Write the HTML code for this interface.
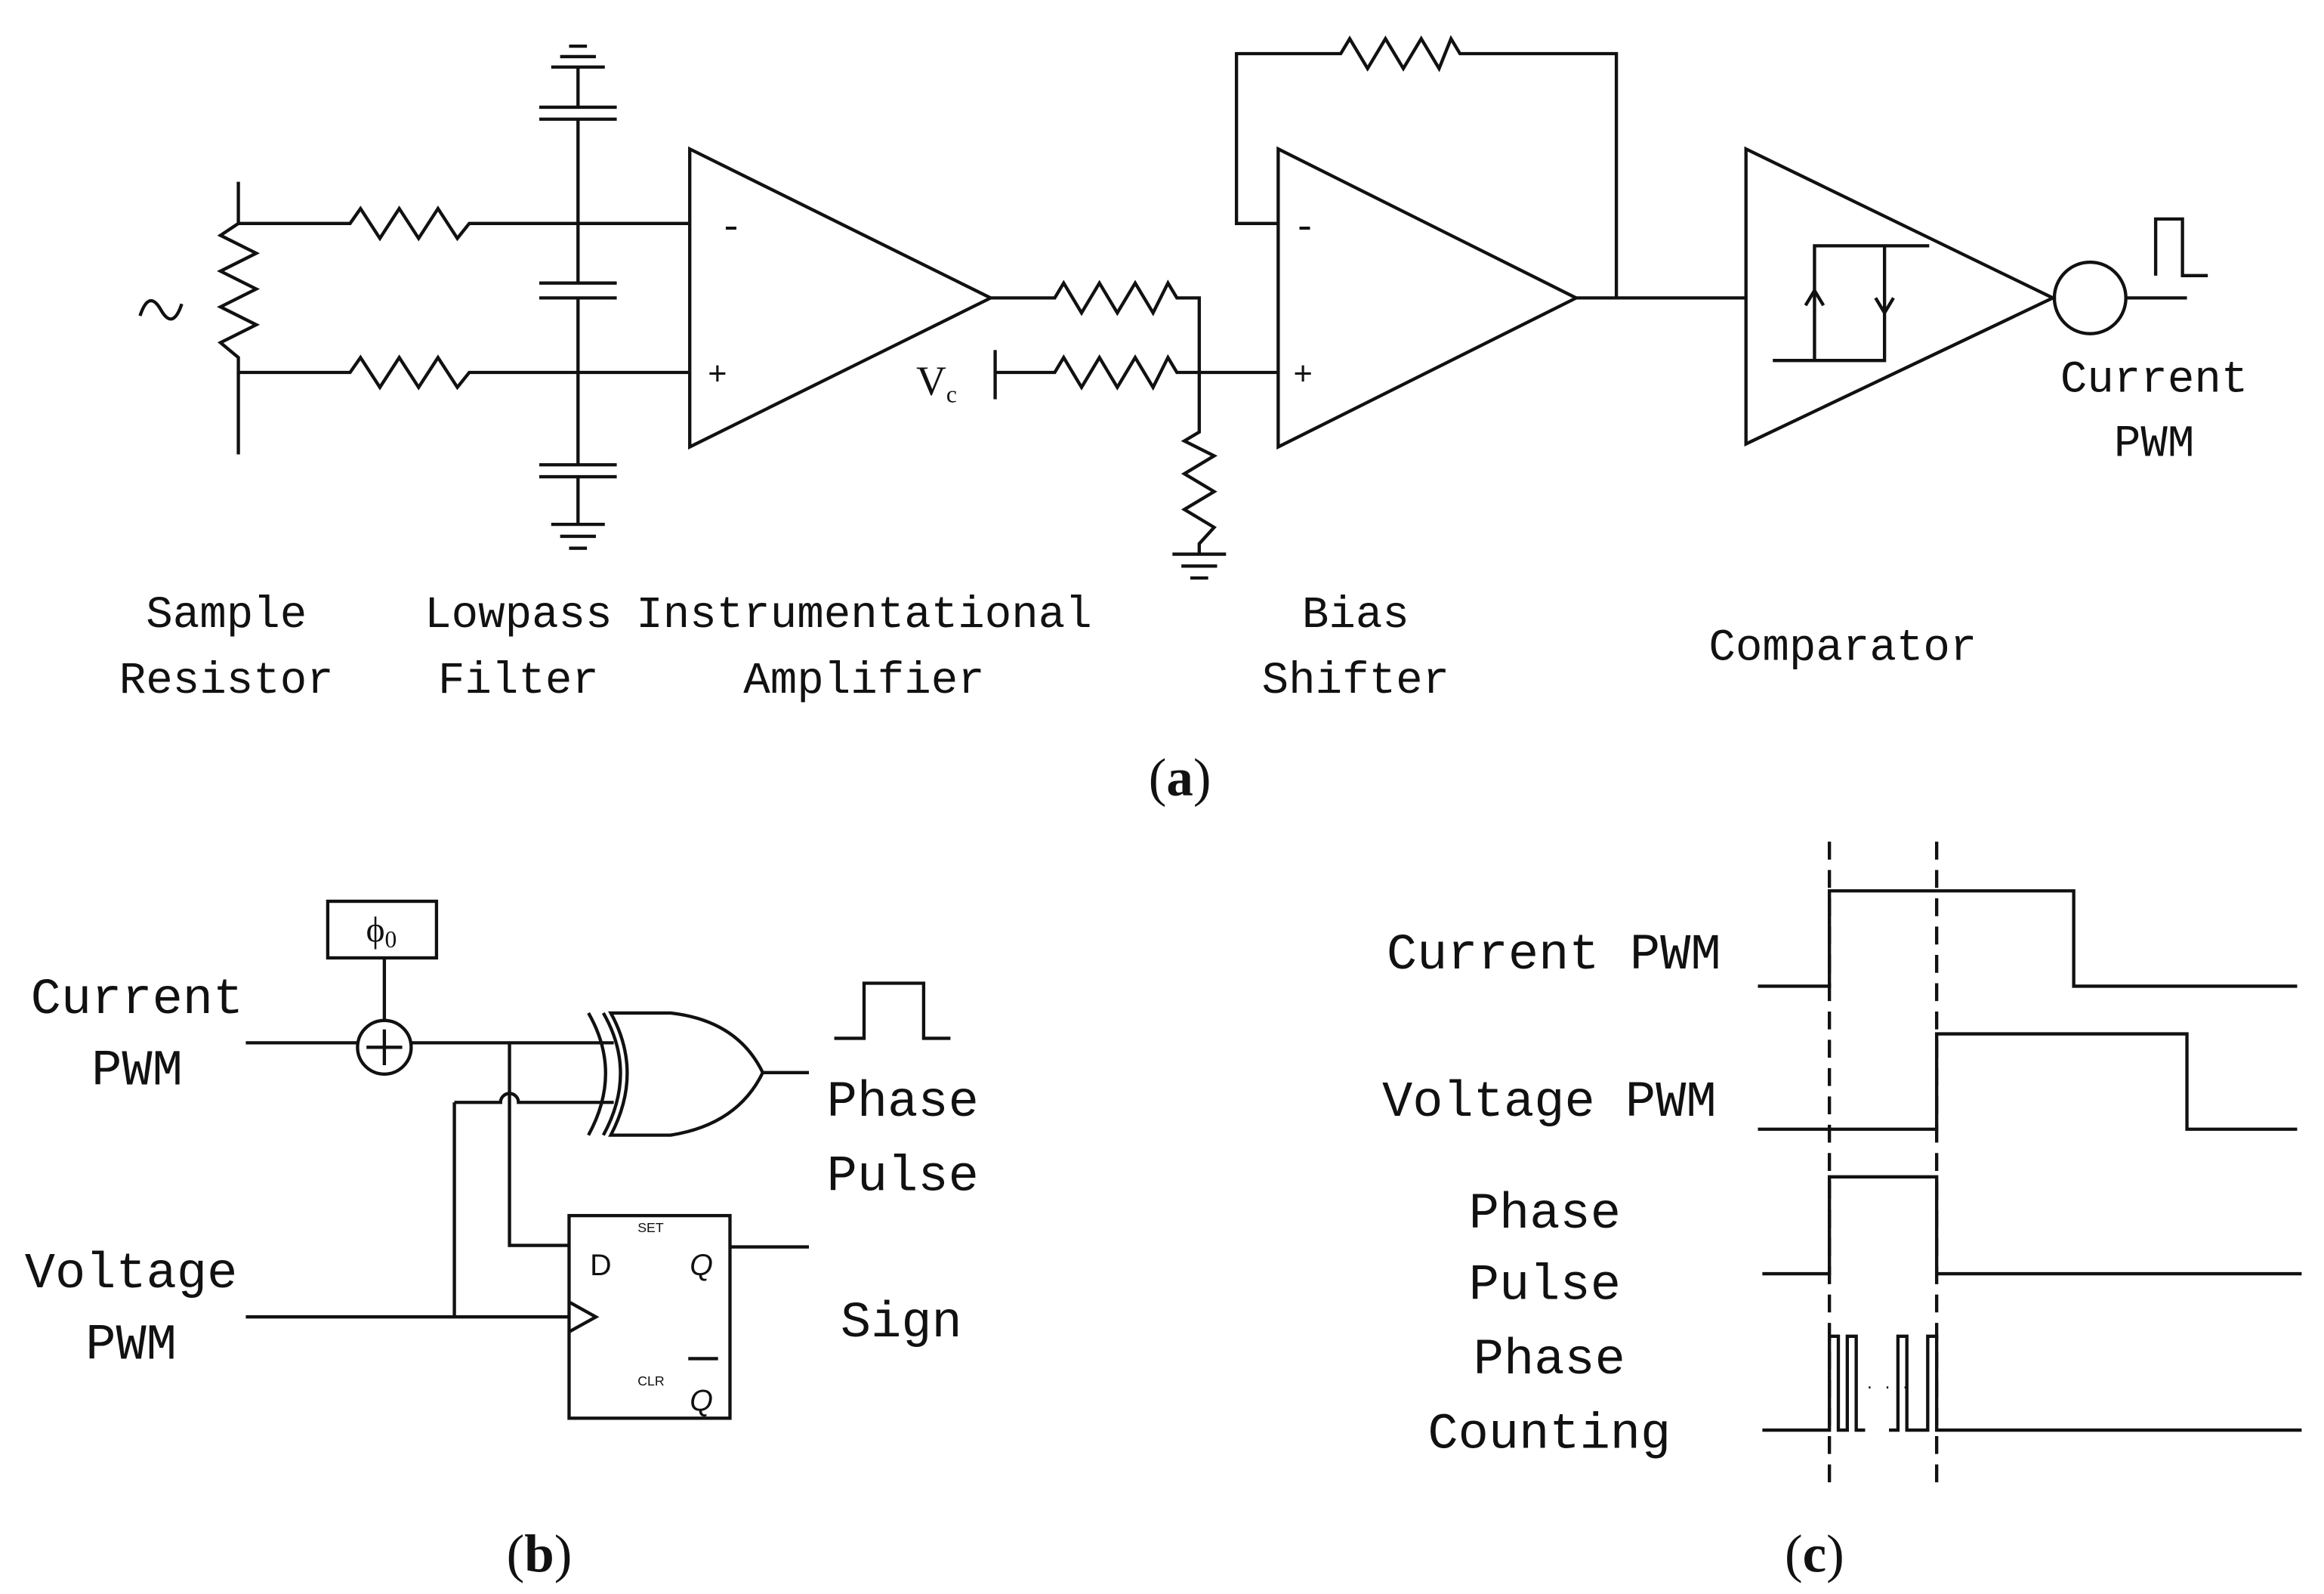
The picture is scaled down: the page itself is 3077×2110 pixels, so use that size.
<!DOCTYPE html>
<html><head><meta charset="utf-8"><style>
html,body{margin:0;padding:0;background:#fff}
svg{display:block}
text{font-family:"Liberation Mono",monospace;fill:#111}
text.s{font-family:"Liberation Serif",serif}
</style></head><body>
<svg width="3077" height="2110" viewBox="0 0 1560 1070" preserveAspectRatio="none" xmlns="http://www.w3.org/2000/svg">
<g fill="none" stroke="#111" stroke-width="2.2">
<path d="M160,122 V150 L148,158 L172,170 L148,182 L172,194 L148,206 L172,218 L148,230 L160,240 V305"/>
<path d="M94,212 q6,-18 14,-4 q8,14 14,-4"/>
<path d="M160,150 H235 L242,140 L255,160 L268,140 L281,160 L294,140 L307,160 L315,150 H462"/>
<path d="M160,250 H235 L242,240 L255,260 L268,240 L281,260 L294,240 L307,260 L315,250 H462"/>
<path d="M388,45 V72 M362,72 H414 M362,80 H414 M388,80 V190 M362,190 H414 M362,200 H414 M388,200 V312 M362,312 H414 M362,320 H414 M388,320 V352"/>
<path d="M370,352 H406 M376,360 H400 M382,368 H394"/>
<path d="M370,45 H406 M376,38 H400 M382,31 H394"/>
<path d="M463,100 L463,300 L665,200 Z"/>
<path d="M665,200 H708 L714,190 L726,210 L738,190 L750,210 L762,190 L774,210 L784,190 L790,200 H805 V290 L795,296 L815,306 L795,318 L815,330 L795,342 L815,354 L805,365 V372"/>
<path d="M787,372 H823 M793,380 H817 M799,388 H811"/>
<path d="M668,235 V268 M668,250 H708 L714,240 L726,260 L738,240 L750,260 L762,240 L774,260 L784,240 L790,250 H858"/>
<path d="M858,100 L858,300 L1058,200 Z"/>
<path d="M858,150 H830 V36 H900 L906,26 L918,46 L930,26 L942,46 L954,26 L966,46 L974,26 L980,36 H1085 V200"/>
<path d="M1058,200 H1172"/>
<path d="M1172,100 L1172,298 L1378,200 Z"/>
<path d="M1190,242 H1265 V165 M1218,242 V165 H1295"/>
<path d="M1212,205 L1218,195 L1224,205 M1259,200 L1265,210 L1271,200"/>
<circle cx="1403" cy="200" r="24"/>
<path d="M1427,200 H1468 M1447,185 V147 H1465 V185 H1482"/>
<rect x="220" y="605" width="73" height="38"/>
<path d="M258,643 V685"/>
<circle cx="258" cy="703" r="18"/>
<path d="M246,703 H270 M258,691 V715"/>
<path d="M165,700 H240 M276,700 H412"/>
<path d="M305,740 H336 A6,6 0 0 1 348,740 H412"/>
<path d="M395,680 Q418,720 395,762 M405,680 Q428,720 405,762"/>
<path d="M410,680 H450 Q495,685 512,720 Q495,755 450,762 H410 Q432,720 410,680 Z"/>
<path d="M512,720 H543"/>
<path d="M342,700 V836 H382 M305,740 V884 M165,884 H382"/>
<rect x="382" y="816" width="108" height="136"/>
<path d="M382,874 L400,884 L382,894"/>
<path d="M490,837 H543 M462,912 H482"/>
<path d="M560,697 H580 V660 H620 V697 H638"/>
<path d="M1228,565 V1000 M1300,565 V1000" stroke-dasharray="12,7"/>
<path d="M1180,662 H1228 V598 H1392 V662 H1542"/>
<path d="M1180,758 H1300 V694 H1468 V758 H1542"/>
<path d="M1183,855 H1228 V790 H1300 V855 H1545"/>
<path d="M1183,960 H1228 V897 H1234 V960 H1240 V897 H1246 V960 H1252 M1268,960 H1274 V897 H1280 V960 H1294 V897 H1300 V960 H1545"/>
</g>
<text x="1252" y="932" font-size="10">. . .</text>
<text x="483" y="160" font-size="26">-</text>
<text x="475" y="258" font-size="22">+</text>
<text x="868" y="160" font-size="26">-</text>
<text x="868" y="258" font-size="22">+</text>
<text x="615" y="265" font-size="28" class="s">V<tspan font-size="16" dy="5">c</tspan></text>
<g font-size="30" text-anchor="middle">
<text x="1446" y="263">Current</text><text x="1446" y="306">PWM</text>
<text x="152" y="421">Sample</text><text x="152" y="465">Resistor</text>
<text x="348" y="421">Lowpass</text><text x="348" y="465">Filter</text>
<text x="580" y="421">Instrumentational</text><text x="580" y="465">Amplifier</text>
<text x="910" y="421">Bias</text><text x="910" y="465">Shifter</text>
<text x="1237" y="443">Comparator</text>
</g>
<g font-size="34" text-anchor="middle">
<text x="92" y="680">Current</text><text x="92" y="728">PWM</text>
<text x="88" y="864">Voltage</text><text x="88" y="912">PWM</text>
<text x="606" y="749">Phase</text><text x="606" y="799">Pulse</text>
<text x="605" y="897">Sign</text>
<text x="1043" y="650">Current PWM</text>
<text x="1040" y="749">Voltage PWM</text>
<text x="1037" y="824">Phase</text><text x="1037" y="872">Pulse</text>
<text x="1040" y="922">Phase</text><text x="1040" y="972">Counting</text>
</g>
<text x="256" y="632" font-size="24" text-anchor="middle" class="s">ϕ<tspan font-size="16" dy="4">0</tspan></text>
<text x="396" y="856" font-size="20" style="font-family:'Liberation Sans',sans-serif">D</text>
<text x="463" y="856" font-size="20" style="font-family:'Liberation Sans',sans-serif;font-style:italic">Q</text>
<text x="463" y="947" font-size="20" style="font-family:'Liberation Sans',sans-serif;font-style:italic">Q</text>
<text x="428" y="827" font-size="9" style="font-family:'Liberation Sans',sans-serif">SET</text>
<text x="428" y="930" font-size="9" style="font-family:'Liberation Sans',sans-serif">CLR</text>
<text x="792" y="534" font-size="36" text-anchor="middle" class="s">(<tspan font-weight="bold">a</tspan>)</text>
<text x="362" y="1055" font-size="36" text-anchor="middle" class="s">(<tspan font-weight="bold">b</tspan>)</text>
<text x="1218" y="1055" font-size="36" text-anchor="middle" class="s">(<tspan font-weight="bold">c</tspan>)</text>
</svg>
</body></html>
